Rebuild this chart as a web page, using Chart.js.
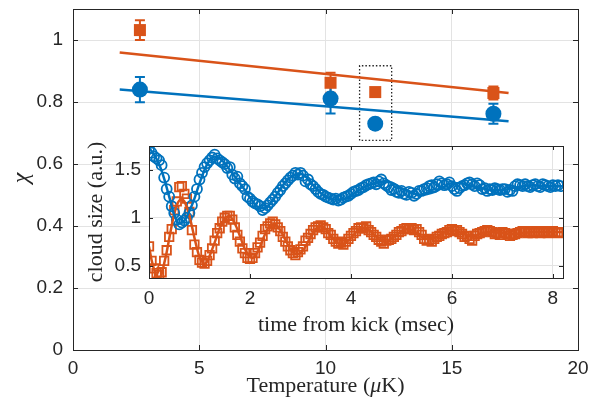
<!DOCTYPE html>
<html>
<head>
<meta charset="utf-8">
<script src="https://cdn.jsdelivr.net/npm/chart.js@4.4.1/dist/chart.umd.min.js"></script>
<style>
  html, body { margin: 0; padding: 0; background: #fff; }
  #wrap { position: relative; width: 602px; height: 400px; }
  #wrap canvas { position: absolute; left: 0; top: 0; }
</style>
</head>
<body>
<div id="wrap">
  <canvas id="mainChart" width="602" height="400"></canvas>
  <canvas id="insetChart" width="602" height="400"></canvas>
</div>
<script>
// ---- main panel: chi vs temperature ----
const tempK = [2.65, 10.2, 11.97, 16.65];
const chiOrange = [1.032, 0.862, 0.832, 0.829];
const chiOrangeErr = [0.032, 0.032, 0, 0.021];
const chiBlue = [0.840, 0.811, 0.730, 0.762];
const chiBlueErr = [0.041, 0.048, 0, 0.032];

// straight fit lines
const fitT = [1.85, 17.25];
const fitOrange = [0.960, 0.829];
const fitBlue = [0.840, 0.738];

// dotted box round the highlighted pair
const boxT = [11.35, 11.35, 12.62, 12.62, 11.35];
const boxChi = [0.676, 0.917, 0.917, 0.676, 0.676];

const mainXTicks = [0, 5, 10, 15, 20];
const mainYTicks = [0, 0.2, 0.4, 0.6, 0.8, 1];

// ---- inset: cloud size vs time from kick ----
const insetStep = 0.05; // msec between samples
const insetBlue = [
  1.72,1.68,1.64,1.62,1.60,1.55,1.42,1.30,1.22,1.12,1.05,0.98,0.93,0.95,0.97,1.00,1.05,1.13,1.22,1.30,
  1.40,1.47,1.53,1.57,1.60,1.63,1.66,1.62,1.60,1.58,1.56,1.52,1.53,1.45,1.41,1.43,1.36,1.33,1.30,1.22,
  1.20,1.17,1.15,1.14,1.12,1.08,1.10,1.13,1.16,1.19,1.22,1.26,1.29,1.33,1.36,1.39,1.42,1.44,1.47,1.45,
  1.47,1.44,1.38,1.40,1.35,1.33,1.30,1.27,1.25,1.24,1.22,1.21,1.20,1.19,1.20,1.18,1.19,1.21,1.22,1.23,
  1.25,1.27,1.28,1.29,1.31,1.32,1.34,1.35,1.36,1.37,1.35,1.38,1.40,1.36,1.34,1.32,1.29,1.30,1.27,1.26,
  1.28,1.25,1.24,1.27,1.26,1.23,1.25,1.28,1.28,1.30,1.31,1.33,1.34,1.32,1.35,1.38,1.36,1.34,1.35,1.37,
  1.33,1.30,1.28,1.31,1.33,1.34,1.36,1.37,1.35,1.33,1.36,1.34,1.30,1.31,1.28,1.30,1.29,1.31,1.30,1.29,
  1.30,1.30,1.27,1.29,1.28,1.33,1.35,1.34,1.33,1.35,1.33,1.32,1.34,1.35,1.33,1.32,1.35,1.34,1.33,1.32,
  1.34,1.33,1.34,1.33
];
const insetOrange = [
  0.70,0.55,0.47,0.42,0.40,0.43,0.55,0.66,0.80,0.88,1.08,1.17,1.32,1.33,1.25,1.20,1.06,0.87,0.72,0.64,
  0.56,0.53,0.52,0.55,0.61,0.68,0.76,0.84,0.89,0.96,1.00,1.02,1.02,0.98,0.90,0.82,0.75,0.68,0.63,0.58,
  0.57,0.58,0.63,0.69,0.74,0.81,0.88,0.91,0.94,0.96,0.93,0.90,0.86,0.80,0.75,0.70,0.66,0.63,0.61,0.64,
  0.67,0.70,0.76,0.79,0.83,0.87,0.90,0.91,0.92,0.90,0.88,0.84,0.82,0.78,0.75,0.73,0.74,0.72,0.75,0.78,
  0.81,0.84,0.86,0.89,0.90,0.89,0.91,0.87,0.85,0.82,0.80,0.77,0.75,0.73,0.76,0.77,0.78,0.80,0.82,0.85,
  0.86,0.88,0.89,0.88,0.89,0.87,0.88,0.85,0.82,0.78,0.76,0.77,0.75,0.78,0.80,0.81,0.83,0.84,0.85,0.87,
  0.88,0.86,0.87,0.85,0.83,0.80,0.81,0.78,0.76,0.81,0.83,0.84,0.85,0.86,0.87,0.86,0.85,0.83,0.84,0.82,
  0.85,0.84,0.83,0.81,0.82,0.83,0.84,0.85,0.86,0.85,0.84,0.86,0.84,0.85,0.86,0.84,0.85,0.86,0.84,0.85,
  0.86,0.85,0.84,0.85
];

// fitted curves
const blueFitT = [0, 0.1, 0.2, 0.3, 0.4, 0.5, 0.6, 0.7, 0.8, 0.9, 1.0, 1.1, 1.2, 1.3, 1.4, 1.5, 1.6, 1.7, 1.8, 1.9,
  2.0, 2.1, 2.2, 2.3, 2.4, 2.5, 2.6, 2.7, 2.8, 2.9, 3.0, 3.1, 3.2, 3.3, 3.4, 3.5, 3.6, 3.7, 3.8, 3.9,
  4.0, 4.2, 4.4, 4.6, 4.8, 5.0, 5.2, 5.4, 5.6, 5.8, 6.0, 6.2, 6.4, 6.6, 6.8, 7.0, 7.2, 7.4, 7.6, 7.8, 8.0, 8.2];
const blueFitV = [1.73, 1.66, 1.56, 1.41, 1.22, 1.03, 0.94, 0.97, 1.07, 1.20, 1.36, 1.50, 1.60, 1.64, 1.62, 1.57, 1.50, 1.43, 1.36, 1.29,
  1.21, 1.14, 1.10, 1.10, 1.15, 1.22, 1.30, 1.37, 1.42, 1.45, 1.46, 1.43, 1.37, 1.31, 1.26, 1.22, 1.20, 1.19, 1.19, 1.20,
  1.23, 1.30, 1.35, 1.38, 1.37, 1.31, 1.26, 1.24, 1.26, 1.31, 1.36, 1.36, 1.33, 1.31, 1.29, 1.29, 1.31, 1.33, 1.34, 1.33, 1.33, 1.33];
const orangeFitT = [0, 0.05, 0.1, 0.15, 0.2, 0.25, 0.3, 0.35, 0.4, 0.45, 0.5, 0.55, 0.6, 0.65, 0.7, 0.75, 0.8, 0.85, 0.9, 0.95,
  1.0, 1.05, 1.1, 1.15, 1.2, 1.3, 1.4, 1.5, 1.55, 1.6, 1.7, 1.8, 1.9, 2.0, 2.05, 2.1, 2.2, 2.3, 2.4, 2.5,
  2.6, 2.7, 2.8, 2.9, 3.0, 3.1, 3.2, 3.3, 3.4, 3.5, 3.6, 3.7, 3.8, 3.9, 4.0, 4.1, 4.2, 4.3, 4.4, 4.5,
  4.6, 4.7, 4.8, 4.9, 5.0, 5.1, 5.2, 5.3, 5.4, 5.5, 5.6, 5.7, 5.8, 5.9, 6.0, 6.1, 6.2, 6.4, 6.6, 6.8,
  7.0, 7.2, 7.4, 7.6, 7.8, 8.2];
const orangeFitV = [0.70, 0.56, 0.46, 0.39, 0.37, 0.41, 0.52, 0.64, 0.78, 0.92, 1.04, 1.13, 1.18, 1.19, 1.17, 1.11, 1.02, 0.91, 0.79, 0.68,
  0.59, 0.54, 0.52, 0.54, 0.60, 0.74, 0.89, 0.99, 1.01, 1.01, 0.94, 0.81, 0.67, 0.59, 0.58, 0.60, 0.70, 0.83, 0.92, 0.93,
  0.87, 0.77, 0.67, 0.62, 0.63, 0.70, 0.80, 0.88, 0.91, 0.88, 0.81, 0.75, 0.72, 0.74, 0.79, 0.85, 0.89, 0.89, 0.85, 0.80,
  0.76, 0.75, 0.78, 0.82, 0.86, 0.88, 0.87, 0.84, 0.80, 0.78, 0.78, 0.80, 0.83, 0.86, 0.87, 0.86, 0.84, 0.81, 0.84, 0.85,
  0.84, 0.83, 0.84, 0.85, 0.85, 0.85];

const insetXTicks = [0, 2, 4, 6, 8];
const insetYTicks = [0.5, 1, 1.5];

// ---- styling ----
const BLUE = '#0072BD';
const ORANGE = '#D95319';
const AXIS = '#262626';
const GRID = '#e3e3e3';
const SANS = '"Liberation Sans", Arial, sans-serif';
const SERIF = '"Liberation Serif", "Times New Roman", serif';

const pts = (xs, ys) => xs.map((x, i) => ({ x: x, y: ys[i] }));
const insetTimes = insetBlue.map((_, i) => +(i * insetStep).toFixed(2));

// box with inward ticks on all four sides, like matlab
const framePlugin = {
  id: 'frame',
  beforeDraw(chart, args, opts) {
    if (!opts.fill) return;
    const a = chart.chartArea;
    chart.ctx.save();
    chart.ctx.fillStyle = '#fff';
    chart.ctx.fillRect(a.left, a.top, a.width, a.height);
    chart.ctx.restore();
  },
  afterDraw(chart, args, opts) {
    const { ctx, chartArea: a, scales } = chart;
    const len = opts.tickLen || 5;
    ctx.save();
    ctx.strokeStyle = AXIS;
    ctx.lineWidth = 1;
    ctx.beginPath();
    scales.x.ticks.forEach(t => {
      const px = Math.round(scales.x.getPixelForValue(t.value)) + 0.5;
      ctx.moveTo(px, a.bottom); ctx.lineTo(px, a.bottom - len);
      ctx.moveTo(px, a.top); ctx.lineTo(px, a.top + len);
    });
    scales.y.ticks.forEach(t => {
      const py = Math.round(scales.y.getPixelForValue(t.value)) + 0.5;
      ctx.moveTo(a.left, py); ctx.lineTo(a.left + len, py);
      ctx.moveTo(a.right, py); ctx.lineTo(a.right - len, py);
    });
    ctx.stroke();
    ctx.strokeRect(Math.round(a.left) + 0.5, Math.round(a.top) + 0.5, Math.round(a.width), Math.round(a.height));
    ctx.restore();
  }
};

// vertical error bars with caps, drawn under the markers
const errorBarPlugin = {
  id: 'errorBars',
  beforeDatasetsDraw(chart) {
    const { ctx, scales: { x, y } } = chart;
    const sets = [[chiOrange, chiOrangeErr, ORANGE], [chiBlue, chiBlueErr, BLUE]];
    ctx.save();
    ctx.lineWidth = 2;
    sets.forEach(([vals, errs, col]) => {
      ctx.strokeStyle = col;
      tempK.forEach((t, i) => {
        if (!errs[i]) return;
        const px = x.getPixelForValue(t);
        const top = y.getPixelForValue(vals[i] + errs[i]);
        const bot = y.getPixelForValue(vals[i] - errs[i]);
        ctx.beginPath();
        ctx.moveTo(px, top); ctx.lineTo(px, bot);
        ctx.moveTo(px - 5, top); ctx.lineTo(px + 5, top);
        ctx.moveTo(px - 5, bot); ctx.lineTo(px + 5, bot);
        ctx.stroke();
      });
    });
    ctx.restore();
  }
};

// axis titles (serif, matlab latex look)
const titlePlugin = {
  id: 'titles',
  afterDraw(chart, args, opts) {
    const ctx = chart.ctx;
    ctx.save();
    ctx.fillStyle = AXIS;
    ctx.textBaseline = 'middle';
    if (opts.x) {
      const parts = opts.x;
      let total = 0;
      parts.forEach(p => { ctx.font = p.font; total += ctx.measureText(p.text).width; });
      let cx = opts.xPos[0] - total / 2;
      ctx.textAlign = 'left';
      parts.forEach(p => { ctx.font = p.font; ctx.fillText(p.text, cx, opts.xPos[1]); cx += ctx.measureText(p.text).width; });
    }
    if (opts.y) {
      ctx.translate(opts.yPos[0], opts.yPos[1]);
      ctx.rotate(-Math.PI / 2);
      ctx.textAlign = 'center';
      ctx.font = opts.yFont;
      ctx.fillText(opts.y, 0, 0);
    }
    ctx.restore();
  }
};

const fixTicks = list => scale => { scale.ticks = list.map(v => ({ value: v })); };
const noPadX = h => s => { s.height = h; s.paddingLeft = 0; s.paddingRight = 0; };
const noPadY = w => s => { s.width = w; s.paddingTop = 0; s.paddingBottom = 0; };
const tickFont = { family: SANS, size: 19 };
const plainLabel = v => String(v);

new Chart(document.getElementById('mainChart'), {
  type: 'scatter',
  data: {
    datasets: [
      { data: pts(tempK, chiOrange), pointStyle: 'rect', pointRadius: 8.5, backgroundColor: ORANGE, borderColor: ORANGE, borderWidth: 0, order: 1 },
      { data: pts(tempK, chiBlue), pointStyle: 'circle', pointRadius: 8, backgroundColor: BLUE, borderColor: BLUE, borderWidth: 0, order: 1 },
      { type: 'line', data: pts(fitT, fitOrange), borderColor: ORANGE, borderWidth: 2.5, pointRadius: 0, order: 2 },
      { type: 'line', data: pts(fitT, fitBlue), borderColor: BLUE, borderWidth: 2.5, pointRadius: 0, order: 2 },
      { type: 'line', data: pts(boxT, boxChi), borderColor: AXIS, borderWidth: 1.3, borderDash: [1.5, 2], pointRadius: 0, order: 3 }
    ]
  },
  options: {
    responsive: false,
    animation: false,
    devicePixelRatio: 1,
    layout: { padding: { left: 0, top: 9, right: 24, bottom: 0 } },
    plugins: {
      legend: { display: false },
      tooltip: { enabled: false },
      titles: {
        x: [
          { text: 'Temperature (', font: '22px ' + SERIF },
          { text: 'μ', font: 'italic 22px ' + SERIF },
          { text: 'K)', font: '22px ' + SERIF }
        ],
        xPos: [325.5, 386],
        y: 'χ', yFont: 'italic 24px ' + SERIF, yPos: [22, 178]
      },
      frame: { tickLen: 5 }
    },
    scales: {
      x: {
        type: 'linear', min: 0, max: 20,
        afterBuildTicks: fixTicks(mainXTicks),
        afterFit: noPadX(50),
        grid: { color: GRID, drawTicks: false },
        border: { display: false },
        ticks: { padding: 7, color: AXIS, font: tickFont, maxRotation: 0, callback: plainLabel }
      },
      y: {
        type: 'linear', min: 0, max: 1.1,
        afterBuildTicks: fixTicks(mainYTicks),
        afterFit: noPadY(73),
        grid: { color: GRID, drawTicks: false },
        border: { display: false },
        ticks: { padding: 10, color: AXIS, font: tickFont, callback: plainLabel }
      }
    }
  },
  plugins: [errorBarPlugin, framePlugin, titlePlugin]
});

new Chart(document.getElementById('insetChart'), {
  type: 'scatter',
  data: {
    datasets: [
      { type: 'line', data: pts(blueFitT, blueFitV), borderColor: BLUE, borderWidth: 2.5, pointRadius: 0, cubicInterpolationMode: 'monotone', order: 0 },
      { type: 'line', data: pts(orangeFitT, orangeFitV), borderColor: ORANGE, borderWidth: 2.5, pointRadius: 0, cubicInterpolationMode: 'monotone', order: 0 },
      { data: pts(insetTimes, insetBlue), pointStyle: 'circle', pointRadius: 5, borderColor: BLUE, backgroundColor: 'rgba(0,0,0,0)', borderWidth: 1.8, order: 1 },
      { data: pts(insetTimes, insetOrange), pointStyle: 'rect', pointRadius: 6, borderColor: ORANGE, backgroundColor: 'rgba(0,0,0,0)', borderWidth: 1.8, order: 1 }
    ]
  },
  options: {
    responsive: false,
    animation: false,
    devicePixelRatio: 1,
    layout: { padding: { left: 0, top: 146, right: 39, bottom: 0 } },
    plugins: {
      legend: { display: false },
      tooltip: { enabled: false },
      titles: {
        x: [{ text: 'time from kick (msec)', font: '22px ' + SERIF }],
        xPos: [356, 325],
        y: 'cloud size (a.u.)', yFont: '22px ' + SERIF, yPos: [96, 212]
      },
      frame: { tickLen: 4, fill: true }
    },
    scales: {
      x: {
        type: 'linear', min: 0, max: 8.2,
        afterBuildTicks: fixTicks(insetXTicks),
        afterFit: noPadX(122),
        grid: { color: GRID, drawTicks: false },
        border: { display: false },
        ticks: { padding: 9, color: AXIS, font: tickFont, maxRotation: 0, callback: plainLabel }
      },
      y: {
        type: 'linear', min: 0.37, max: 1.75,
        afterBuildTicks: fixTicks(insetYTicks),
        afterFit: noPadY(149),
        grid: { color: GRID, drawTicks: false },
        border: { display: false },
        ticks: { padding: 8, color: AXIS, font: tickFont, callback: plainLabel }
      }
    }
  },
  plugins: [framePlugin, titlePlugin]
});
</script>
</body>
</html>
